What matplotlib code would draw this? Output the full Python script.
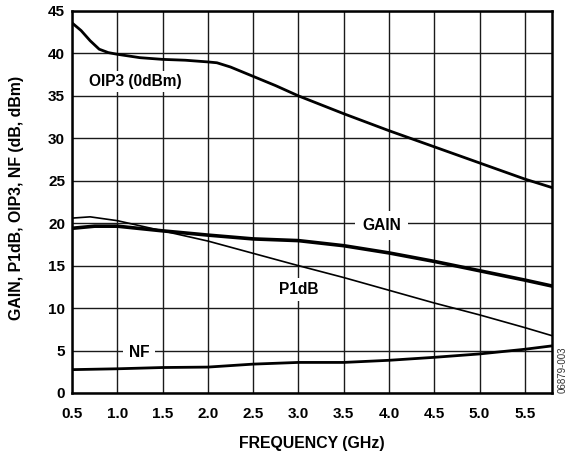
import matplotlib as mpl

mpl.use("Agg")

import matplotlib.pyplot as plt
import numpy as np

OIP3_FREQ = [0.5, 0.6, 0.7, 0.8, 0.9, 1.0, 1.25, 1.5, 1.75, 2.0, 2.1, 2.25, 2.5, 2.75,
             3.0, 3.5, 4.0, 4.5, 5.0, 5.5, 5.8]
OIP3 = [43.6, 42.7, 41.5, 40.5, 40.1, 39.9, 39.5, 39.3, 39.2, 39.0, 38.9, 38.4, 37.3, 36.2,
        35.0, 32.9, 30.9, 29.0, 27.1, 25.2, 24.2]

GAIN_FREQ = [0.5, 0.75, 1.0, 1.5, 2.0, 2.5, 3.0, 3.5, 4.0, 4.5, 5.0, 5.5, 5.8]
GAIN = [19.4, 19.65, 19.65, 19.1, 18.6, 18.15, 17.95, 17.35, 16.5, 15.5, 14.4, 13.3, 12.6]

P1DB_FREQ = [0.5, 0.7, 1.0, 1.5, 2.0, 2.5, 3.0, 3.5, 4.0, 4.5, 5.0, 5.5, 5.8]
P1DB = [20.6, 20.75, 20.3, 19.1, 17.9, 16.45, 15.0, 13.6, 12.1, 10.6, 9.2, 7.7, 6.75]

NF_FREQ = [0.5, 1.0, 1.5, 2.0, 2.5, 3.0, 3.5, 4.0, 4.5, 5.0, 5.5, 5.8]
NF = [2.75, 2.85, 3.0, 3.05, 3.4, 3.6, 3.6, 3.85, 4.2, 4.6, 5.15, 5.55]

X_TICKS = [0.5, 1.0, 1.5, 2.0, 2.5, 3.0, 3.5, 4.0, 4.5, 5.0, 5.5]
Y_TICKS = [0, 5, 10, 15, 20, 25, 30, 35, 40, 45]

plt.rcParams["font.family"] = ["Liberation Sans", "DejaVu Sans"]
plt.rcParams["font.weight"] = "bold"

fig = plt.figure(figsize=(5.71, 4.54), dpi=100)
ax = fig.add_axes([0.1261, 0.1344, 0.8406, 0.8414])

ax.set_xlim(0.5, 5.8)
ax.set_ylim(0, 45)
ax.set_xticks(X_TICKS)
ax.set_xticklabels([f"{t:.1f}" for t in X_TICKS])
ax.set_yticks(Y_TICKS)
ax.grid(True, color="#1a1a1a", linewidth=1.0)
ax.set_axisbelow(True)
for spine in ax.spines.values():
    spine.set_linewidth(1.8)
    spine.set_color("black")
ax.tick_params(length=0, labelsize=11)
ax.tick_params(axis="x", pad=10)
ax.tick_params(axis="y", pad=5)
for lab in ax.get_xticklabels() + ax.get_yticklabels():
    lab.set_fontweight("bold")

ax.plot(OIP3_FREQ, OIP3, color="black", lw=2.0, zorder=3)
ax.plot(GAIN_FREQ, GAIN, color="black", lw=2.6, zorder=3)
ax.plot(P1DB_FREQ, P1DB, color="black", lw=1.2, zorder=3)
ax.plot(NF_FREQ, NF, color="black", lw=2.0, zorder=3)

fs = 11.2
ax.text(1.2, 36.7, "OIP3 (0dBm)", ha="center", va="center", fontsize=fs,
        fontweight="bold", bbox=dict(facecolor="white", edgecolor="none", pad=2.5), zorder=2)
ax.text(3.92, 19.7, "GAIN", ha="center", va="center", fontsize=fs,
        fontweight="bold", bbox=dict(facecolor="white", edgecolor="none", pad=5), zorder=2)
ax.text(3.0, 12.2, "P1dB", ha="center", va="center", fontsize=fs,
        fontweight="bold", bbox=dict(facecolor="white", edgecolor="none", pad=3), zorder=2)
ax.text(1.24, 4.8, "NF", ha="center", va="center", fontsize=fs,
        fontweight="bold", bbox=dict(facecolor="white", edgecolor="none", pad=4), zorder=2)

ax.set_xlabel("FREQUENCY (GHz)", fontsize=11.4, fontweight="bold")
ax.set_ylabel("GAIN, P1dB, OIP3, NF (dB, dBm)", fontsize=11.4, fontweight="bold")
ax.xaxis.set_label_coords(0.5, -0.112)
ax.yaxis.set_label_coords(-0.1, 0.51)

fig.text(0.985, 0.185, "06879-003", rotation=90, ha="center", va="center",
         fontsize=7, fontweight="normal", color="#333333")

fig.savefig("out.png", dpi=100)
